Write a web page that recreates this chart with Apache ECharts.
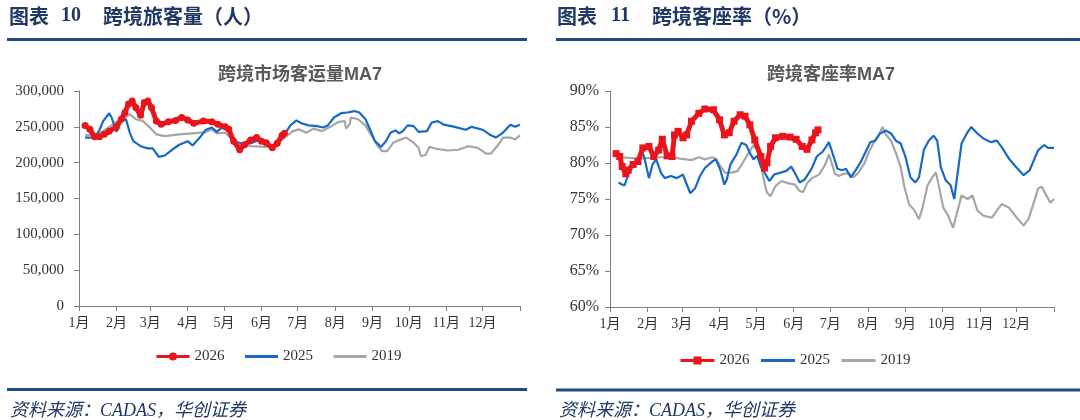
<!DOCTYPE html>
<html><head><meta charset="utf-8">
<script src="https://cdn.jsdelivr.net/npm/echarts@6/dist/echarts.min.js"></script>
<style>html,body{margin:0;padding:0;background:#fff}#c{width:1080px;height:420px}</style>
</head><body><div id="c"></div>
<script>
const monthLabels = ['1月','2月','3月','4月','5月','6月','7月','8月','9月','10月','11月','12月'];
const monthStarts = [0,31,59,90,120,151,181,212,243,273,304,334];
const tickDays = monthStarts.concat([365]);

// Left chart: cross-border passengers MA7, [dayOfYear, persons]
const pax2026 = [[5,252000],[9,246500],[13,236000],[17,236000],[21,239500],[25,244000],[31,250000],[35,260600],[38,270000],[41,281700],[44,286000],[47,277000],[51,266000],[54,284000],[57,286000],[60,277000],[64,258000],[68,253500],[74,257000],[80,259000],[85,263000],[90,259600],[95,255000],[103,258000],[110,257000],[115,253500],[121,250000],[124,246500],[128,230000],[133,218000],[137,225000],[142,231500],[147,235000],[151,230000],[155,227700],[160,220700],[164,227000],[168,238000],[170,241000]];
const pax2025 = [[5,235000],[13,235000],[17,246000],[20,258000],[25,269000],[27,263000],[31,243000],[35,259000],[39,260000],[42,242000],[45,230000],[51,223000],[57,220000],[61,220000],[66,208000],[71,210000],[77,218000],[83,225000],[90,230000],[94,224000],[100,235000],[105,246000],[110,249000],[114,243000],[119,250000],[123,250000],[125,237000],[128,230000],[134,227000],[142,227000],[150,232000],[154,225000],[159,221000],[165,228000],[171,242000],[175,252000],[180,259000],[184,255000],[190,252000],[197,251000],[202,249000],[206,252000],[211,263000],[217,269000],[222,270000],[228,272000],[232,270000],[237,261000],[241,246000],[245,230000],[250,222000],[254,230000],[258,242000],[262,245000],[265,241000],[268,244000],[272,252000],[277,251000],[281,243000],[288,244000],[292,256000],[297,258000],[302,253000],[311,250000],[320,246000],[325,250000],[334,246000],[340,239000],[345,235000],[351,242000],[357,253000],[361,250000],[365,253000]];
const pax2019 = [[5,238000],[14,239500],[20,244000],[25,250000],[31,257000],[37,260600],[42,267600],[47,260600],[53,258000],[58,250000],[64,239500],[71,237000],[83,239500],[94,241000],[105,242700],[110,246500],[114,241000],[121,241800],[125,235000],[130,224000],[134,225000],[142,223000],[154,222000],[160,223000],[165,227700],[171,236000],[177,244000],[182,246500],[188,241800],[194,247500],[201,244000],[208,250000],[215,257000],[220,258000],[221,247500],[224,253500],[225,263000],[231,260600],[237,252000],[242,238000],[247,224000],[251,216000],[255,216000],[260,227700],[265,231500],[271,235000],[277,227700],[281,220700],[283,209000],[287,211000],[290,222000],[295,219700],[305,217000],[314,218000],[322,223000],[330,220700],[337,212700],[341,212700],[347,225000],[351,235000],[357,235000],[361,232400],[365,238000]];

// Right chart: load factor MA7, [dayOfYear, %]
const load2026 = [[5,81.3],[8,80.9],[10,79.5],[13,78.5],[15,79.0],[19,79.8],[23,80.2],[27,82.1],[32,82.3],[36,80.9],[40,81.8],[43,83.3],[47,81.0],[51,80.9],[53,83.9],[56,84.4],[60,83.5],[63,83.9],[67,85.8],[73,86.9],[78,87.5],[85,87.4],[90,86.0],[94,83.9],[98,84.2],[102,85.8],[107,86.7],[111,86.5],[115,85.3],[119,83.2],[124,80.9],[127,79.3],[129,80.0],[132,82.3],[136,83.5],[142,83.7],[148,83.6],[153,83.3],[158,82.3],[162,81.9],[166,83.2],[169,84.2],[171,84.6]];
const load2025 = [[7,77.3],[10,77.0],[12,76.9],[15,78.4],[19,79.8],[23,80.5],[26,81.6],[28,80.9],[32,77.9],[35,79.8],[38,80.5],[42,78.6],[45,77.9],[50,78.2],[55,77.9],[60,78.4],[62,77.5],[66,75.8],[70,76.5],[74,78.2],[78,79.3],[84,80.2],[87,80.5],[91,78.9],[94,77.0],[96,77.7],[99,79.8],[104,81.2],[108,82.8],[112,82.5],[115,81.4],[118,80.5],[121,81.0],[124,79.5],[128,78.4],[131,77.5],[135,78.4],[141,78.7],[145,78.9],[149,79.5],[152,78.6],[156,77.3],[160,77.7],[166,79.3],[170,80.9],[175,81.6],[180,82.9],[184,80.8],[187,79.2],[191,79.0],[194,79.2],[198,78.0],[202,79.0],[206,80.1],[210,81.5],[214,82.9],[218,83.1],[222,84.1],[227,84.5],[231,84.1],[235,83.1],[239,82.7],[243,80.8],[247,78.0],[251,77.3],[254,78.0],[258,81.8],[262,83.1],[266,83.8],[269,83.1],[272,79.4],[276,77.6],[280,76.9],[283,75.0],[285,77.6],[289,82.7],[294,84.3],[297,85.0],[302,84.1],[307,83.4],[313,82.9],[318,83.1],[322,82.2],[328,80.6],[334,79.4],[340,78.3],[345,79.0],[349,80.6],[352,81.8],[357,82.5],[360,82.1],[365,82.1]];
const load2019 = [[7,80.8],[16,80.7],[24,80.6],[33,80.7],[41,80.8],[50,80.8],[58,80.6],[67,80.4],[73,80.8],[78,80.5],[84,80.8],[87,80.6],[91,79.5],[95,78.6],[101,78.7],[105,78.9],[109,80.0],[114,81.4],[118,82.5],[121,81.8],[124,79.8],[127,77.2],[129,75.9],[132,75.4],[136,76.8],[141,77.5],[146,77.2],[152,77.0],[156,76.1],[159,76.0],[162,77.2],[166,77.9],[172,78.4],[177,79.8],[180,81.2],[185,78.5],[188,78.2],[192,78.5],[196,78.6],[200,78.0],[204,78.6],[209,79.9],[213,81.6],[217,82.9],[221,83.9],[224,85.0],[227,83.9],[231,83.1],[235,81.4],[239,79.4],[242,76.7],[246,74.2],[250,73.5],[254,72.2],[257,73.8],[261,76.9],[265,78.0],[268,78.7],[270,77.1],[274,73.8],[278,72.7],[282,71.0],[285,72.9],[289,75.5],[294,75.0],[298,75.5],[302,73.4],[307,72.7],[314,72.4],[318,73.4],[322,74.3],[328,73.8],[333,72.7],[340,71.3],[344,72.2],[349,74.8],[352,76.5],[355,76.7],[359,75.4],[362,74.5],[365,75.0]];

const RED = '#E8151D', BLUE = '#1769C4', GRAY = '#A6A6A6';
const SERIF = "'Liberation Serif','Times New Roman','Noto Sans CJK SC',serif";
const NAVY = '#203864', LINEBLUE = '#1F4A86', AXIS = '#7F7F7F';

function xAxis(gridIndex) {
  return {
    type: 'value', gridIndex, min: 0, max: 365,
    axisLine: { lineStyle: { color: AXIS, width: 1 } },
    axisTick: { show: true, length: 5, lineStyle: { color: AXIS }, customValues: tickDays },
    axisLabel: { customValues: monthStarts, margin: 10, color: '#333', fontSize: 14, fontFamily: SERIF,
      formatter: v => monthLabels[monthStarts.indexOf(Math.round(v))] || '' },
    splitLine: { show: false }
  };
}
function yAxis(gridIndex, min, max, interval, fmt, margin, fontSize) {
  return {
    type: 'value', gridIndex, min, max, interval,
    axisLine: { show: true, lineStyle: { color: AXIS, width: 1 } },
    axisTick: { show: true, length: 5, lineStyle: { color: AXIS } },
    axisLabel: { margin, color: '#333', fontSize, fontFamily: SERIF, formatter: fmt },
    splitLine: { show: false }
  };
}
function marked(name, data, xi, symbol) {
  return { name, type: 'line', xAxisIndex: xi, yAxisIndex: xi, data, symbol, symbolSize: 7,
    showSymbol: true, lineStyle: { color: RED, width: 5 }, itemStyle: { color: RED, borderWidth: 0 },
    z: 5, silent: true };
}
function plain(name, data, xi, color, z) {
  return { name, type: 'line', xAxisIndex: xi, yAxisIndex: xi, data, symbol: 'none',
    lineStyle: { color, width: 2.2 }, itemStyle: { color }, z, silent: true };
}
function txt(x, y, text, style) {
  return { type: 'text', x, y, style: Object.assign({ text, textVerticalAlign: 'middle' }, style) };
}
function hline(x1, x2, y) {
  return { type: 'line', shape: { x1, y1: y, x2, y2: y }, style: { stroke: LINEBLUE, lineWidth: 3 } };
}
function legendItems(prefix) {
  return [
    { name: prefix + '2026' },
    { name: prefix + '2025', itemStyle: { opacity: 0 } },
    { name: prefix + '2019', itemStyle: { opacity: 0 } }
  ];
}
const headCJK = { font: "bold 20px 'Noto Sans CJK SC'", fill: NAVY };
const headNum = { font: "bold 20px 'Liberation Serif'", fill: NAVY };
const foot = { font: "italic 18px 'Liberation Serif','Noto Sans CJK SC'", fill: NAVY };
const ttl = { font: "bold 18px 'Liberation Sans','Noto Sans CJK SC'", fill: '#595959', textAlign: 'center' };

const chart = echarts.init(document.getElementById('c'), null, { renderer: 'canvas' });
chart.setOption({
  animation: false,
  backgroundColor: '#fff',
  grid: [
    { left: 79, top: 91, width: 441, height: 215 },
    { left: 610, top: 91, width: 444, height: 216 }
  ],
  xAxis: [xAxis(0), xAxis(1)],
  yAxis: [
    yAxis(0, 0, 300000, 50000, v => v.toLocaleString('en-US'), 15, 15),
    yAxis(1, 60, 90, 5, v => v + '%', 11, 16)
  ],
  legend: [
    { left: 150, top: 344, itemWidth: 33, itemHeight: 10, itemGap: 19, data: legendItems('L'),
      formatter: n => n.slice(1), lineStyle: { width: 3 },
      textStyle: { fontFamily: SERIF, fontSize: 15, color: '#333' }, selectedMode: false },
    { left: 674, top: 348, itemWidth: 34, itemHeight: 10, itemGap: 10, data: legendItems('R'),
      formatter: n => n.slice(1), lineStyle: { width: 3 },
      textStyle: { fontFamily: SERIF, fontSize: 15, color: '#333' }, selectedMode: false }
  ],
  series: [
    plain('L2019', pax2019, 0, GRAY, 2),
    plain('L2025', pax2025, 0, BLUE, 3),
    marked('L2026', pax2026, 0, 'circle'),
    plain('R2019', load2019, 1, GRAY, 2),
    plain('R2025', load2025, 1, BLUE, 3),
    marked('R2026', load2026, 1, 'rect')
  ],
  graphic: [
    txt(9, 16, '图表', headCJK), txt(61, 16, '10', headNum), txt(103, 16, '跨境旅客量（人）', headCJK),
    txt(557, 16, '图表', headCJK), txt(611, 16, '11', headNum), txt(652, 16, '跨境客座率（%）', headCJK),
    hline(7, 527, 39.5), hline(556, 1080, 39.5),
    hline(7, 527, 389.5), hline(556, 1080, 390),
    txt(300, 75, '跨境市场客运量MA7', ttl), txt(831, 75, '跨境客座率MA7', ttl),
    txt(10, 411, '资料来源：CADAS，华创证券', foot), txt(559, 411, '资料来源：CADAS，华创证券', foot)
  ]
});
</script></body></html>
